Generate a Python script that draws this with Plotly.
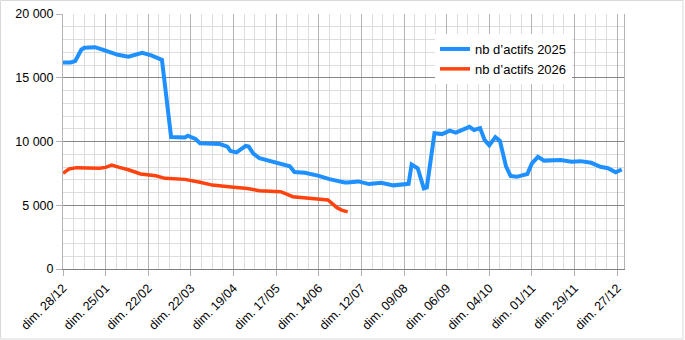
import plotly.graph_objects as go

# ---- data ----
dates_2025 = [
    "2025-12-28", "2026-01-02", "2026-01-05", "2026-01-09", "2026-01-11", "2026-01-18",
    "2026-01-23", "2026-02-02", "2026-02-09", "2026-02-18", "2026-02-24", "2026-03-03",
    "2026-03-09", "2026-03-18", "2026-03-20", "2026-03-25", "2026-03-28", "2026-04-10",
    "2026-04-15", "2026-04-17", "2026-04-21", "2026-04-27", "2026-04-29", "2026-05-02",
    "2026-05-06", "2026-05-12", "2026-05-21", "2026-05-26", "2026-05-29", "2026-06-05",
    "2026-06-14", "2026-06-21", "2026-07-01", "2026-07-03", "2026-07-10", "2026-07-17",
    "2026-07-25", "2026-08-02", "2026-08-12", "2026-08-14", "2026-08-18", "2026-08-19",
    "2026-08-22", "2026-08-24", "2026-08-29", "2026-09-03", "2026-09-08", "2026-09-12",
    "2026-09-19", "2026-09-21", "2026-09-24", "2026-09-28", "2026-10-01", "2026-10-04",
    "2026-10-08", "2026-10-11", "2026-10-15", "2026-10-18", "2026-10-22", "2026-10-29",
    "2026-11-01", "2026-11-05", "2026-11-09", "2026-11-16", "2026-11-20", "2026-11-27",
    "2026-12-03", "2026-12-10", "2026-12-16", "2026-12-21", "2026-12-26", "2026-12-30",
]
actifs_2025 = [
    16200, 16200, 16300, 17200, 17350, 17400,
    17200, 16800, 16650, 16950, 16750, 16400,
    10350, 10320, 10450, 10200, 9870, 9800,
    9600, 9250, 9150, 9650, 9600, 9050,
    8700, 8500, 8280, 8050, 7600, 7550,
    7300, 7050, 6780, 6780, 6870, 6660,
    6760, 6560, 6680, 8200, 7900, 7500,
    6320, 6400, 10650, 10580, 10850, 10700,
    11030, 11150, 10900, 11050, 10110, 9700,
    10350, 10050, 8050, 7300, 7230, 7450,
    8280, 8800, 8500, 8550, 8550, 8420,
    8460, 8330, 8020, 7900, 7580, 7800,
]

dates_2026 = [
    "2025-12-28", "2026-01-01", "2026-01-06", "2026-01-16", "2026-01-21", "2026-01-25",
    "2026-01-29", "2026-02-03", "2026-02-09", "2026-02-17", "2026-02-27", "2026-03-05",
    "2026-03-18", "2026-03-28", "2026-04-05", "2026-04-16", "2026-04-22", "2026-04-28",
    "2026-05-06", "2026-05-15", "2026-05-20", "2026-05-28", "2026-06-05", "2026-06-16",
    "2026-06-20", "2026-06-26", "2026-06-29", "2026-07-03",
]
actifs_2026 = [
    7500, 7850, 7950, 7950, 7900, 7970,
    8150, 7970, 7780, 7450, 7310, 7110,
    7030, 6800, 6580, 6450, 6370, 6320,
    6140, 6060, 6060, 5670, 5590, 5490,
    5410, 4810, 4620, 4480,
]

series_names = ["nb d\u2019actifs 2025", "nb d\u2019actifs 2026"]
y_ticks = [0, 5000, 10000, 15000, 20000]

DAY = 86400000
FONT = "Liberation Sans, Arial, sans-serif"

fig = go.Figure()
fig.add_trace(go.Scatter(x=dates_2025, y=actifs_2025, mode="lines", name=series_names[0],
                         line=dict(color="#1e90ff", width=4)))
fig.add_trace(go.Scatter(x=dates_2026, y=actifs_2026, mode="lines", name=series_names[1],
                         line=dict(color="#ff420e", width=3.5)))

L, R, T, B = 63, 61, 14, 71
W, H = 685, 340
pw, ph = W - L - R, H - T - B

fig.update_layout(
    width=W, height=H,
    margin=dict(l=L, r=R, t=T, b=B, pad=0, autoexpand=False),
    paper_bgcolor="white", plot_bgcolor="white",
    separators=", ",
    font=dict(family=FONT, size=12.5, color="#000000"),
    showlegend=True,
    legend=dict(x=(435 - L) / pw, y=1 - (34 - T) / ph, xanchor="left", yanchor="top",
                bgcolor="white", borderwidth=0, font=dict(size=13, family=FONT, color="#000000"),
                tracegroupgap=0),
    xaxis=dict(
        type="date", automargin=False,
        range=["2025-12-28", "2026-12-31 12:00"],
        tick0="2025-12-28", dtick=28 * DAY,
        tickformat="dim. %d/%m", tickangle=-45,
        ticks="outside", ticklen=6, tickcolor="#b3b3b3",
        showgrid=True, gridcolor="#b3b3b3", gridwidth=1,
        minor=dict(dtick=7 * DAY, tick0="2025-12-28", showgrid=True, gridcolor="#dddddd"),
        showline=True, linecolor="#808080", linewidth=1,
        zeroline=False,
    ),
    yaxis=dict(
        automargin=False,
        range=[0, 20000], tickvals=y_ticks, tickformat=",d",
        ticks="outside", ticklen=6, tickcolor="#b3b3b3",
        showgrid=True, gridcolor="#888888", gridwidth=1,
        minor=dict(dtick=1000, showgrid=True, gridcolor="#dddddd"),
        showline=True, linecolor="#b3b3b3", linewidth=1, mirror=True,
        zeroline=False,
    ),
)

# outer frame of the chart image
fig.add_shape(type="rect", xref="paper", yref="paper",
              x0=(0.5 - L) / pw, x1=(W - 2 - L) / pw,
              y0=(H - B - (H - 1)) / ph, y1=(H - B - 0.5) / ph,
              line=dict(color="#d9d9d9", width=1), layer="below")

fig.write_html("out.html")
